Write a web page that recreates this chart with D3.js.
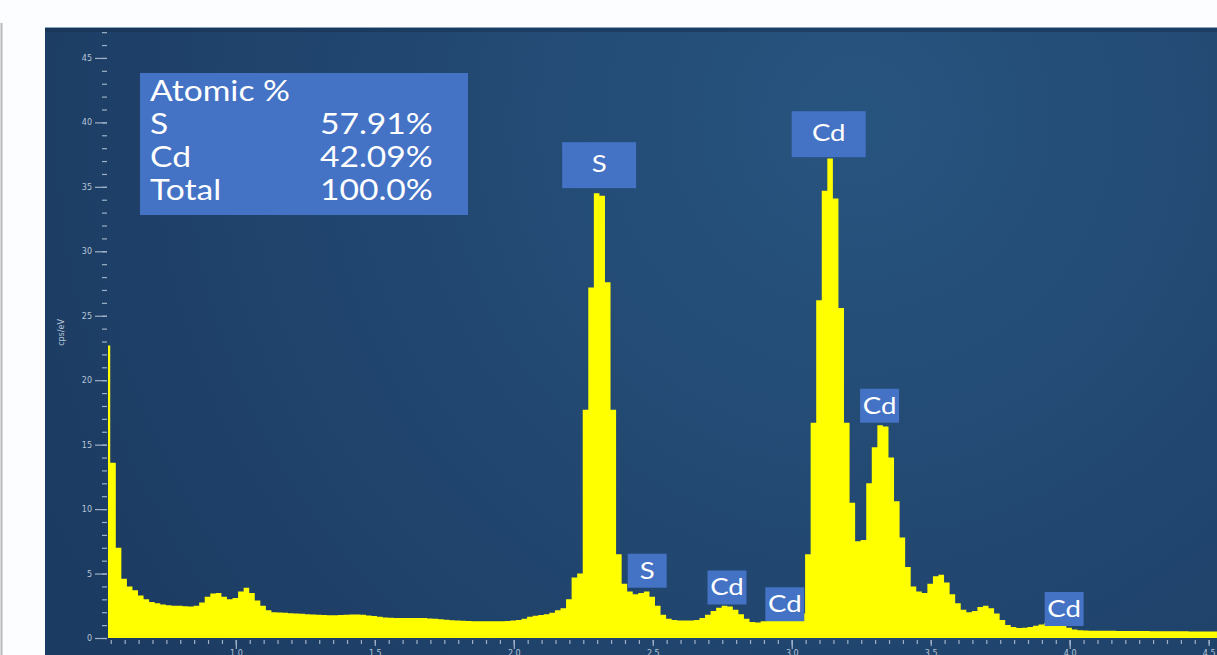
<!DOCTYPE html>
<html>
<head>
<meta charset="utf-8">
<script src="https://cdn.jsdelivr.net/npm/d3@7"></script>
<style>
  html, body { margin: 0; padding: 0; background: #fbfdfe; }
  svg { display: block; }
</style>
</head>
<body>
<div id="chart"></div>
<script>
// EDS spectrum (CdS), counts per channel in cps/eV
const channelStart = 0.528;   // keV, first channel
const channelWidth = 0.02;    // keV per channel
const counts = [
  22.7, 13.6, 7.0, 4.6, 4.0, 3.7, 3.3, 3.0, 2.8, 2.7,
  2.6, 2.55, 2.5, 2.5, 2.47, 2.45, 2.5, 2.75, 3.2, 3.45,
  3.5, 3.2, 3.0, 3.1, 3.6, 3.9, 3.5, 2.9, 2.5, 2.15,
  2.0, 1.97, 1.95, 1.92, 1.9, 1.88, 1.85, 1.82, 1.8, 1.78,
  1.77, 1.77, 1.78, 1.8, 1.82, 1.82, 1.8, 1.75, 1.7, 1.65,
  1.6, 1.58, 1.56, 1.55, 1.55, 1.55, 1.56, 1.55, 1.52, 1.5,
  1.46, 1.42, 1.38, 1.36, 1.34, 1.32, 1.3, 1.3, 1.3, 1.3,
  1.3, 1.3, 1.32, 1.35, 1.4, 1.5, 1.65, 1.72, 1.78, 1.85,
  1.95, 2.15, 2.3, 3.0, 4.7, 5.0, 17.7, 27.2, 34.5, 34.3,
  27.6, 17.7, 6.5, 4.2, 3.6, 3.4, 3.5, 3.6, 3.2, 2.5,
  1.8, 1.5, 1.4, 1.35, 1.35, 1.35, 1.4, 1.55, 1.8, 2.1,
  2.35, 2.5, 2.45, 2.2, 1.85, 1.5, 1.25, 1.2, 1.3, 1.4,
  1.45, 1.5, 1.55, 1.6, 1.7, 1.9, 6.5, 16.7, 26.2, 34.7,
  37.2, 34.1, 25.6, 16.7, 10.5, 7.5, 7.6, 12.0, 14.8, 16.5,
  16.4, 14.0, 10.6, 7.8, 5.5, 4.0, 3.6, 3.5, 4.2, 4.8,
  4.9, 4.3, 3.4, 2.7, 2.2, 2.0, 2.1, 2.4, 2.5, 2.3,
  1.9, 1.4, 1.0, 0.85, 0.78, 0.8, 0.85, 0.95, 1.05, 1.15,
  1.2, 1.15, 1.0, 0.8, 0.65, 0.6, 0.58, 0.57, 0.57, 0.56,
  0.56, 0.56, 0.55, 0.55, 0.55, 0.54, 0.54, 0.54, 0.53, 0.53,
  0.53, 0.52, 0.52, 0.52, 0.52, 0.51, 0.51, 0.51, 0.5, 0.5, 0.5, 0.5
];

// Peak identification labels: energy (keV) and the count level the label sits on
const peakElements = ['S', 'S', 'Cd', 'Cd', 'Cd', 'Cd', 'Cd'];
const peakEnergies = [2.307, 2.48, 2.767, 2.975, 3.133, 3.316, 3.98];
const peakLevels   = [34.9, 3.9, 2.6, 1.3, 37.3, 16.7, 0.93];
const peakMajor    = [true, false, false, false, true, false, false];

// Quantification table
const atomicTitle = 'Atomic %';
const atomicElements = ['S', 'Cd', 'Total'];
const atomicValues = ['57.91%', '42.09%', '100.0%'];

// Axis settings
const energyDomain = [0.54, 4.53];
const countDomain = [0, 47.4];

// Layout
const W = 1217, H = 655;
const panel = { x: 45, y: 27 };
const plot = { left: 108, right: 1217, top: 27, bottom: 638 };
const labelFont = 'Lato, "Open Sans", sans-serif';
const stretch = 1.2;   // the source rendering is horizontally stretched
const boxBlue = '#4472c4';

const svg = d3.select('#chart').append('svg')
  .attr('width', W)
  .attr('height', H);

const defs = svg.append('defs');

const grad = defs.append('radialGradient')
  .attr('id', 'panelGrad')
  .attr('gradientUnits', 'userSpaceOnUse')
  .attr('cx', 860).attr('cy', 120).attr('r', 900);
grad.append('stop').attr('offset', 0).attr('stop-color', '#27547f');
grad.append('stop').attr('offset', 1).attr('stop-color', '#1c3b62');

defs.append('clipPath').attr('id', 'plotClip')
  .append('rect')
  .attr('x', plot.left)
  .attr('y', 0)
  .attr('width', plot.right - plot.left)
  .attr('height', plot.bottom + 1);

// Left page border
svg.append('line')
  .attr('x1', 1.5).attr('x2', 1.5)
  .attr('y1', 23).attr('y2', H)
  .attr('stroke', '#b6b8bb')
  .attr('stroke-width', 2);

// Dark panel
svg.append('rect')
  .attr('x', panel.x)
  .attr('y', panel.y)
  .attr('width', W - panel.x)
  .attr('height', H - panel.y)
  .attr('fill', 'url(#panelGrad)');

svg.append('rect')
  .attr('x', panel.x).attr('y', panel.y + 1)
  .attr('width', W - panel.x).attr('height', 4)
  .attr('fill', '#183252')
  .attr('opacity', 0.55);

svg.append('line')
  .attr('x1', panel.x).attr('x2', W)
  .attr('y1', panel.y + 0.5).attr('y2', panel.y + 0.5)
  .attr('stroke', '#8ea5c0')
  .attr('stroke-width', 1);

// Scales
const x = d3.scaleLinear().domain(energyDomain).range([plot.left, plot.right]);
const y = d3.scaleLinear().domain(countDomain).range([plot.bottom, plot.top]);

// Spectrum as a filled step histogram
const spectrum = counts.map((v, i) => ({ e: channelStart + i * channelWidth, v }));
spectrum.push({ e: channelStart + counts.length * channelWidth, v: counts[counts.length - 1] });

const area = d3.area()
  .curve(d3.curveStepAfter)
  .x(d => x(d.e))
  .y0(y(0))
  .y1(d => y(d.v));

svg.append('path')
  .datum(spectrum)
  .attr('clip-path', 'url(#plotClip)')
  .attr('fill', '#ffff00')
  .attr('d', area);

// Axes
const tickColor = '#9fb1c8';
const labelColor = '#b9c6d8';

function styleAxis(g) {
  g.select('.domain').remove();
  g.selectAll('.tick line').attr('stroke', tickColor).attr('stroke-width', 1.2);
  g.selectAll('.tick text')
    .attr('fill', labelColor)
    .attr('font-family', '"DejaVu Sans", sans-serif')
    .attr('font-size', 8);
}

svg.append('g')
  .attr('transform', `translate(${plot.left - 1},0)`)
  .call(d3.axisLeft(y).tickValues(d3.range(0, 48, 1)).tickSize(5).tickFormat(''))
  .call(styleAxis);

svg.append('g')
  .attr('transform', `translate(${plot.left - 1},0)`)
  .call(d3.axisLeft(y).tickValues(d3.range(0, 46, 5)).tickSize(12).tickPadding(3))
  .call(styleAxis);

svg.append('g')
  .attr('transform', `translate(0,${plot.bottom + 2})`)
  .call(d3.axisBottom(x).tickValues(d3.range(11, 91).map(i => i * 0.05)).tickSize(4).tickFormat(''))
  .call(styleAxis);

svg.append('g')
  .attr('transform', `translate(0,${plot.bottom + 2})`)
  .call(d3.axisBottom(x).tickValues(d3.range(2, 10).map(i => i * 0.5)).tickSize(6).tickPadding(4)
    .tickFormat(d3.format('.1f')))
  .call(styleAxis);

svg.append('g')
  .attr('transform', `translate(0,${plot.bottom + 2})`)
  .call(d3.axisBottom(x).tickValues([1, 2, 3, 4]).tickSize(9).tickFormat(''))
  .call(styleAxis);

svg.append('text')
  .attr('transform', `translate(64,${(plot.top + plot.bottom) / 2}) rotate(-90)`)
  .attr('text-anchor', 'middle')
  .attr('fill', labelColor)
  .attr('font-family', '"DejaVu Sans", sans-serif')
  .attr('font-size', 8)
  .text('cps/eV');

// Peak labels
const peaks = peakElements.map((el, i) => ({
  el, e: peakEnergies[i], level: peakLevels[i], major: peakMajor[i]
}));

const peakG = svg.append('g').selectAll('g')
  .data(peaks)
  .join('g')
  .attr('transform', d => `translate(${x(d.e)},${y(d.level)})`);

peakG.append('rect')
  .attr('x', d => d.major ? -37 : -19.5)
  .attr('y', d => d.major ? -46 : -34)
  .attr('width', d => d.major ? 74 : 39)
  .attr('height', d => d.major ? 46 : 34)
  .attr('fill', boxBlue);

peakG.append('text')
  .attr('transform', d => `translate(0,${d.major ? -16 : -9}) scale(${stretch},1)`)
  .attr('text-anchor', 'middle')
  .attr('fill', '#ffffff')
  .attr('font-family', labelFont)
  .attr('font-size', 23)
  .text(d => d.el);

// Quantification box
const info = svg.append('g')
  .attr('transform', `translate(${plot.left + 32},${plot.top + 46})`);

info.append('rect')
  .attr('width', 328)
  .attr('height', 142)
  .attr('fill', boxBlue);

const rowGap = 33;
const infoSize = 28;
info.append('text')
  .attr('transform', `translate(10,28) scale(${stretch},1)`)
  .attr('fill', '#ffffff')
  .attr('font-family', labelFont)
  .attr('font-size', infoSize)
  .text(atomicTitle);

atomicElements.forEach((el, i) => {
  const yy = 28 + rowGap * (i + 1);
  info.append('text')
    .attr('transform', `translate(10,${yy}) scale(${stretch},1)`)
    .attr('fill', '#ffffff')
    .attr('font-family', labelFont)
    .attr('font-size', infoSize)
    .text(el);
  info.append('text')
    .attr('transform', `translate(180,${yy}) scale(${stretch},1)`)
    .attr('fill', '#ffffff')
    .attr('font-family', labelFont)
    .attr('font-size', infoSize)
    .text(atomicValues[i]);
});
</script>
</body>
</html>
